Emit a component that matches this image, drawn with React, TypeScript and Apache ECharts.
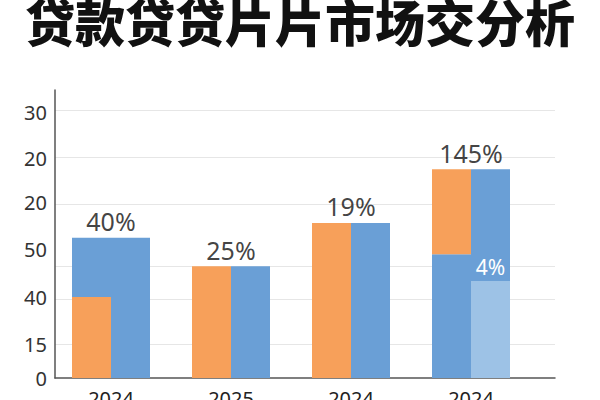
import { useEffect, useRef } from "react";
import * as echarts from "echarts";

const title = "贷款贷贷片片市场交分析";
const categories = ["2024", "2025", "2024", "2024"];
const yTickLabels = ["0", "15", "40", "50", "20", "20", "30"];
const yTickValues = [0, 6.9, 16.7, 26.7, 36.5, 45.8, 55.4];
const gridLineValues = [7.1, 16.5, 23.3, 36.3, 46, 55.8];

// left column: bottom segment + top segment; right column likewise
const leftBottom = [16.9, 23.3, 32.3, 25.8];
const leftTop = [12.3, 0, 0, 17.7];
const rightBottom = [29.2, 23.3, 32.3, 20.2];
const rightTop = [0, 0, 0, 23.3];

const pctLabels = ["40%", "25%", "19%", "145%"];
const innerLabels = ["", "", "", "4%"];

const ORANGE = "#F7A05A";
const BLUE = "#6A9FD6";
const LIGHT = "#9DC2E6";
const leftBottomColors = [ORANGE, ORANGE, ORANGE, BLUE];
const leftTopColors = [BLUE, BLUE, BLUE, ORANGE];
const rightBottomColors = [BLUE, BLUE, BLUE, LIGHT];
const rightTopColors = [BLUE, BLUE, BLUE, BLUE];

const FONT = "'Noto Sans', sans-serif";
const Y_MAX = 60;

const colored = (vals: number[], colors: string[]) =>
  vals.map((v, i) => ({ value: v, itemStyle: { color: colors[i] } }));

export default function App() {
  const ref = useRef<HTMLDivElement | null>(null);

  useEffect(() => {
    if (!ref.current) return;
    const chart = echarts.init(ref.current, undefined, { renderer: "svg" });
    const totals = categories.map((_, i) =>
      Math.max(leftBottom[i] + leftTop[i], rightBottom[i] + rightTop[i])
    );

    chart.setOption({
      animation: false,
      backgroundColor: "#fff",
      title: {
        text: title,
        left: "center",
        top: -10,
        textStyle: {
          fontSize: 50,
          fontWeight: 900,
          color: "#111",
          fontFamily: "'Noto Sans CJK SC', sans-serif",
        },
      },
      grid: [
        { left: 55, right: 45, top: 90, bottom: 22, outerBoundsMode: "none" },
        { left: 51, right: 69, top: 90, bottom: 22, outerBoundsMode: "none" },
      ],
      xAxis: [
        {
          type: "category",
          gridIndex: 0,
          data: categories,
          axisLine: { lineStyle: { color: "#555", width: 1.5 } },
          axisTick: { show: false },
          axisLabel: { show: false },
        },
        {
          type: "category",
          gridIndex: 1,
          data: categories,
          axisLine: { show: false },
          axisTick: { show: false },
          axisLabel: { fontSize: 20, color: "#222", margin: 10, fontFamily: FONT },
        },
      ],
      yAxis: [
        {
          type: "value",
          gridIndex: 0,
          min: 0,
          max: Y_MAX,
          axisLine: { show: true, lineStyle: { color: "#555", width: 1.5 } },
          axisTick: { show: false, customValues: gridLineValues },
          splitLine: { lineStyle: { color: "#e6e6e6", width: 1 } },
          axisLabel: {
            customValues: yTickValues,
            formatter: (v: number) => {
              const i = yTickValues.indexOf(v);
              return i >= 0 ? yTickLabels[i] : "";
            },
            fontSize: 20,
            color: "#333",
            margin: 8,
            fontFamily: FONT,
          },
        },
        {
          type: "value",
          gridIndex: 1,
          min: 0,
          max: Y_MAX,
          show: false,
          splitLine: { show: false },
        },
      ],
      series: [
        {
          type: "bar",
          xAxisIndex: 1,
          yAxisIndex: 1,
          stack: "left",
          barWidth: 39,
          barGap: "0%",
          data: colored(leftBottom, leftBottomColors),
        },
        {
          type: "bar",
          xAxisIndex: 1,
          yAxisIndex: 1,
          stack: "left",
          barWidth: 39,
          barGap: "0%",
          data: colored(leftTop, leftTopColors),
        },
        {
          type: "bar",
          xAxisIndex: 1,
          yAxisIndex: 1,
          stack: "right",
          barWidth: 39,
          barGap: "0%",
          data: colored(rightBottom, rightBottomColors),
        },
        {
          type: "bar",
          xAxisIndex: 1,
          yAxisIndex: 1,
          stack: "right",
          barWidth: 39,
          barGap: "0%",
          data: colored(rightTop, rightTopColors),
          label: {
            show: true,
            position: "insideBottom",
            distance: 4,
            color: "#fff",
            fontSize: 21,
            fontFamily: FONT,
            formatter: (p: any) => innerLabels[p.dataIndex],
          },
        },
        {
          type: "scatter",
          xAxisIndex: 1,
          yAxisIndex: 1,
          symbolSize: 0,
          data: totals,
          label: {
            show: true,
            position: "top",
            distance: 4,
            color: "#111",
            fontSize: 25,
            fontFamily: FONT,
            formatter: (p: any) => pctLabels[p.dataIndex],
          },
          z: 5,
        },
      ],
    });

    return () => chart.dispose();
  }, []);

  return <div ref={ref} style={{ width: 600, height: 400, position: "fixed", left: 0, top: 0 }} />;
}
